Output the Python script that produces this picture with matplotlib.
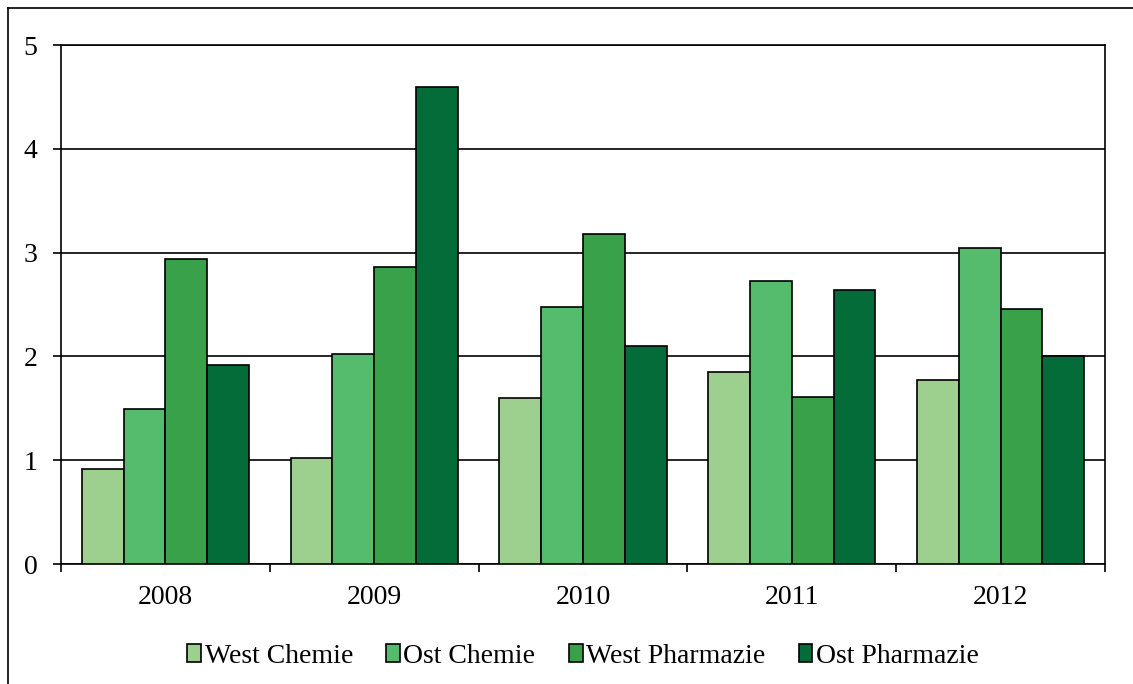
import numpy as np
import matplotlib
matplotlib.use("Agg")
import matplotlib.pyplot as plt
from matplotlib.lines import Line2D

# ---------- Data ----------
years = ["2008", "2009", "2010", "2011", "2012"]
series_names = ["West Chemie", "Ost Chemie", "West Pharmazie", "Ost Pharmazie"]
west_chemie = [0.92, 1.02, 1.60, 1.85, 1.77]
ost_chemie = [1.49, 2.02, 2.48, 2.73, 3.04]
west_pharmazie = [2.94, 2.86, 3.18, 1.61, 2.46]
ost_pharmazie = [1.92, 4.60, 2.10, 2.64, 2.00]
colors = ["#9dcf8e", "#55bc6e", "#3aa14b", "#046c38"]

plt.rcParams['font.family'] = ['Liberation Serif', 'DejaVu Serif']

# ---------- Plotting ----------
fig = plt.figure(figsize=(11.33, 6.84), dpi=100)
ax = fig.add_axes([0.0538, 0.1754, 0.9215, 0.7588])

x = np.arange(len(years))
width = 0.2
all_series = [west_chemie, ost_chemie, west_pharmazie, ost_pharmazie]
for i, (name, vals) in enumerate(zip(series_names, all_series)):
    ax.bar(x + (i - 1.5) * width, vals, width, color=colors[i],
           edgecolor='black', linewidth=1.2, label=name, zorder=3)

ax.set_xlim(-0.5, len(years) - 0.5)
ax.set_ylim(0, 5)
ax.set_yticks(range(0, 6))
ax.yaxis.grid(True, color='black', linewidth=1.2, zorder=0)
ax.set_axisbelow(True)

ax.set_xticks(x)
ax.set_xticklabels(years)
ax.set_xticks(np.arange(-0.5, len(years), 1.0), minor=True)
ax.tick_params(axis='x', which='major', length=0, pad=15, labelsize=20)
ax.tick_params(axis='x', which='minor', length=6, width=1.2, direction='out')
ax.tick_params(axis='y', length=6, width=1.2, direction='out', pad=11,
               labelsize=20)

for s in ax.spines.values():
    s.set_linewidth(1.2)
    s.set_color('black')

ax.legend(loc='center', bbox_to_anchor=(0.5, -0.178), ncol=4, frameon=False,
          fontsize=20, handlelength=0.5, handleheight=0.6,
          handletextpad=0.12, columnspacing=1.2)

# outer chart frame (top and left visible)
fig.add_artist(Line2D([0.007, 1.0], [0.988, 0.988], color='black', lw=1.2,
                      transform=fig.transFigure))
fig.add_artist(Line2D([0.007, 0.007], [0.0, 0.988], color='black', lw=1.2,
                      transform=fig.transFigure))

fig.savefig("out.png", dpi=100)
